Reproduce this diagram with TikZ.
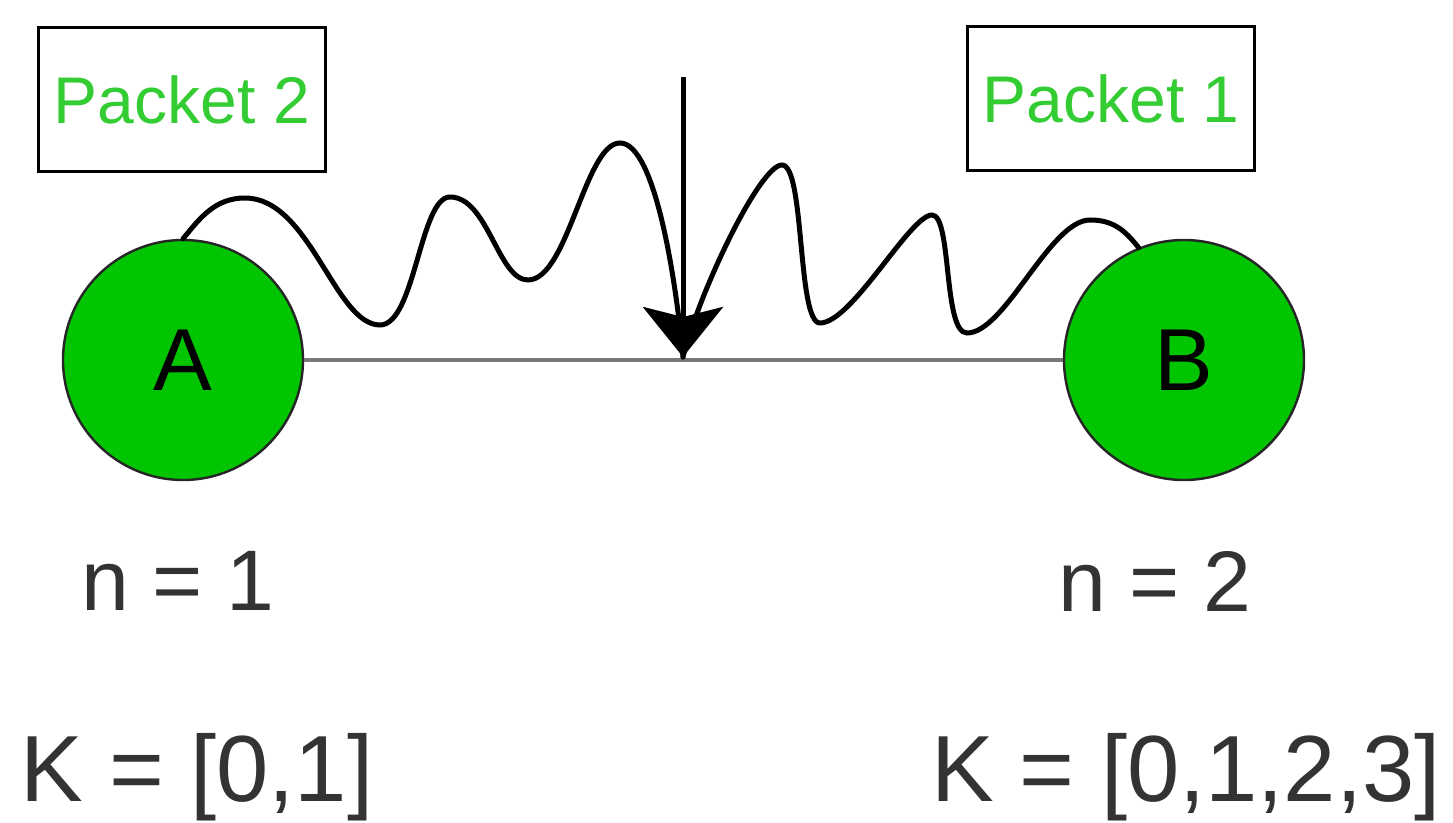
\documentclass[tikz,border=0pt]{standalone}
\usepackage{fontspec}
\setmainfont{Liberation Sans}
\usetikzlibrary{arrows.meta}
\definecolor{nodegreen}{RGB}{0,197,0}
\definecolor{textgreen}{RGB}{51,204,51}
\definecolor{linkgray}{RGB}{120,120,120}
\tikzset{
  pbox/.style={draw=black, line width=1.5pt, minimum width=143.5pt, minimum height=72pt, inner sep=0pt, text=textgreen, font=\fontsize{33}{36}\selectfont},
  station/.style={circle, draw=black!85, line width=1.2pt, fill=nodegreen, minimum size=120pt, inner sep=0pt, font=\fontsize{44}{48}\selectfont},
  nlabel/.style={anchor=base, inner sep=0pt, text=black!80, font=\fontsize{43}{46}\selectfont},
  klabel/.style={anchor=base, inner sep=0pt, text=black!80, font=\fontsize{47}{50}\selectfont},
  wave/.style={line width=2.5pt, line cap=round},
  link/.style={draw=linkgray, line width=2pt}
}
\begin{document}
\begin{tikzpicture}[x=0.5pt, y=-0.5pt]
\useasboundingbox (0,0) rectangle (1453,823);
\node[pbox] (p2) at (182,100) {Packet 2};
\node[pbox] (p1) at (1111,99) {Packet 1};
\node[station] (A) at (183,360) {A};
\node[station] (B) at (1184,360) {B};
\node[nlabel] (n1) at (178,611) {n = 1};
\node[nlabel] (n2) at (1155,612) {n = 2};
\node[klabel] (k1) at (197,802) {K = [0,1]};
\node[klabel] (k2) at (1186,802) {K = [0,1,2,3]};
\coordinate (tip) at (683,357);
\coordinate (top) at (683,77);
\draw[link] (A.east) -- (B.west);
\draw[wave] (A.north) .. controls (200,218) and (215,198) .. (245,198)
  .. controls (310,198) and (335,325) .. (380,325)
  .. controls (415,325) and (420,197) .. (450,197)
  .. controls (488,197) and (498,280) .. (528,280)
  .. controls (568,280) and (585,143) .. (620,143)
  .. controls (655,143) and (676,280) .. (tip);
\draw[wave] (B.112) .. controls (1124,229) and (1112,220) .. (1090,220)
  .. controls (1050,220) and (1005,333) .. (967,333)
  .. controls (943,333) and (952,215) .. (932,215)
  .. controls (910,215) and (852,323) .. (820,323)
  .. controls (797,323) and (805,165) .. (782,165)
  .. controls (760,165) and (700,290) .. (tip);
\draw[line width=2.5pt, -{Stealth[length=25pt, width=40pt, inset=5pt]}] (top) -- (tip);
\end{tikzpicture}
\end{document}
